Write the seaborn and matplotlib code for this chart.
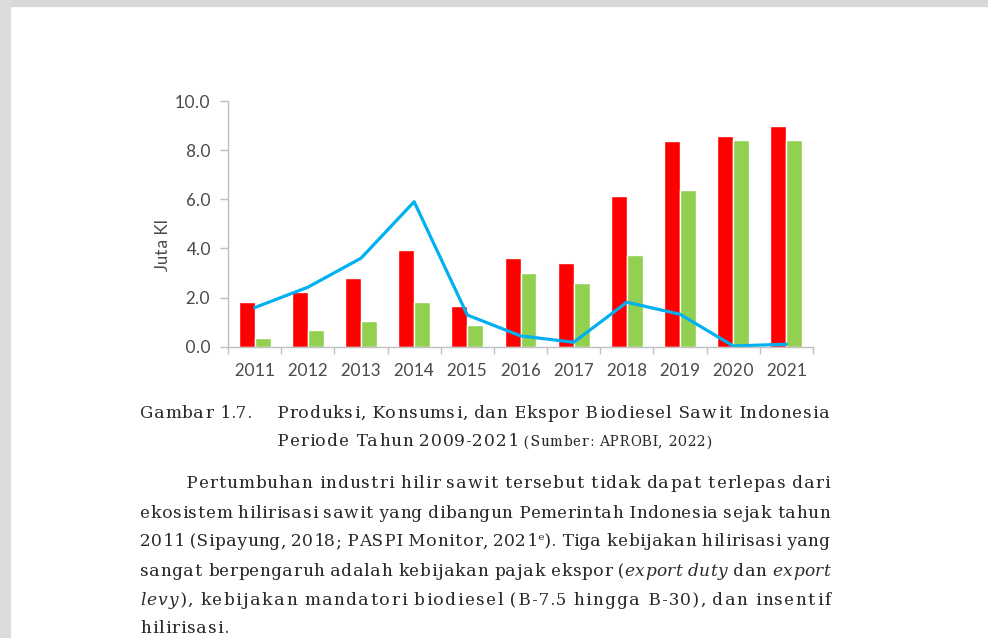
import numpy as np
import pandas as pd
import matplotlib
matplotlib.use('Agg')
import matplotlib.pyplot as plt
import seaborn as sns
from matplotlib.patches import Rectangle
from matplotlib import font_manager as fm

# data (juta kl)
years = ['2011', '2012', '2013', '2014', '2015', '2016', '2017', '2018', '2019', '2020', '2021']
produksi = [1.81, 2.21, 2.78, 3.94, 1.66, 3.62, 3.39, 6.15, 8.38, 8.59, 8.98]
konsumsi = [0.37, 0.68, 1.05, 1.83, 0.88, 2.99, 2.58, 3.74, 6.38, 8.41, 8.41]
ekspor = [1.59, 2.42, 3.60, 5.90, 1.29, 0.44, 0.18, 1.81, 1.32, 0.03, 0.10]
y_ticks = [0, 2, 4, 6, 8, 10]

caption_1 = 'Produksi, Konsumsi, dan Ekspor Biodiesel Sawit Indonesia'
caption_2 = 'Periode Tahun 2009-2021'
sumber = '(Sumber: APROBI, 2022)'
paragraf = [
    'Pertumbuhan industri hilir sawit tersebut tidak dapat terlepas dari',
    'ekosistem hilirisasi sawit yang dibangun Pemerintah Indonesia sejak tahun',
    '2011 (Sipayung, 2018; PASPI Monitor, 2021^e^). Tiga kebijakan hilirisasi yang',
    'sangat berpengaruh adalah kebijakan pajak ekspor (_export duty_ dan _export_',
    '_levy_), kebijakan mandatori biodiesel (B-7.5 hingga B-30), dan insentif',
    'hilirisasi.',
]

W, H = 988, 638
sns.set_theme(style='white')
plt.rcParams['font.family'] = ['Lato', 'DejaVu Sans']
plt.rcParams['text.hinting'] = 'force_autohint'
plt.rcParams['text.hinting_factor'] = 1

fig = plt.figure(figsize=(W / 100, H / 100), dpi=100)
fig.patch.set_facecolor('white')

# grey page edge of the screenshot
fig.patches.append(Rectangle((0, 1 - 6 / H), 1, 6 / H, transform=fig.transFigure,
                             color='#d8d8d8', zorder=0))
fig.patches.append(Rectangle((0, 0), 10 / W, 1, transform=fig.transFigure,
                             color='#dcdcdc', zorder=0))

# chart
ax = fig.add_axes([228 / W, 1 - 346.7 / H, 585 / W, 245.7 / H])
df = pd.DataFrame({'Tahun': years * 2,
                   'Nilai': produksi + konsumsi,
                   'Seri': ['Produksi'] * len(years) + ['Konsumsi'] * len(years)})
sns.barplot(data=df, x='Tahun', y='Nilai', hue='Seri',
            palette={'Produksi': '#FF0000', 'Konsumsi': '#92D050'},
            width=0.6, saturation=1, legend=False, ax=ax)
sns.lineplot(x=np.arange(len(years)), y=ekspor, color='#00B0F0', lw=2.3, ax=ax)

ax.set_xlim(-0.5, len(years) - 0.5)
ax.set_ylim(0, 10)
ax.set_yticks(y_ticks)
ax.set_yticklabels([f'{v:.1f}' for v in y_ticks])
ax.set_xticks(range(len(years)))
ax.set_xticklabels(years)
ax.set_xticks(np.arange(-0.5, len(years), 1), minor=True)
ax.set_xlabel('')
ax.set_ylabel('Juta Kl', fontsize=12, color='#4a4a4a')
ax.yaxis.set_label_coords(-0.097, 0.414)

grey = '#4a4a4a'
axis_c = '#BFBFBF'
ax.tick_params(axis='y', left=True, length=6, width=1, color=axis_c, pad=6.5,
               labelsize=12.5, labelcolor=grey)
ax.tick_params(axis='x', which='major', bottom=True, length=0, pad=12,
               labelsize=12.5, labelcolor=grey)
ax.tick_params(axis='x', which='minor', bottom=True, length=5, width=1, color=axis_c)
for s in ['top', 'right']:
    ax.spines[s].set_visible(False)
for s in ['left', 'bottom']:
    ax.spines[s].set_color(axis_c)
    ax.spines[s].set_linewidth(1)

# caption and paragraph text, justified with letter spacing like the source
renderer = fig.canvas.get_renderer()
serif_font = fm.FontProperties(family='DejaVu Serif')
serif_it = fm.FontProperties(family='DejaVu Serif', style='italic')
fs = 12.5
txt_c = '#2a2a2a'
tracking = 0.6  # the source face runs a little wider than DejaVu Serif


def parse(line):
    words = []
    state = 'normal'
    for w in line.split(' '):
        segs, buf = [], ''
        for ch in w:
            if ch in '_^':
                if buf:
                    segs.append((buf, state))
                    buf = ''
                new = 'italic' if ch == '_' else 'sup'
                state = 'normal' if state == new else new
            else:
                buf += ch
        if buf:
            segs.append((buf, state))
        words.append(segs)
    return words


def prop(style, size):
    fp = (serif_it if style == 'italic' else serif_font).copy()
    fp.set_size(size * 0.6 if style == 'sup' else size)
    return fp


def text_w(s, fp):
    return renderer.get_text_width_height_descent(s, fp, ismath=False)[0]


_adv = {}


def advance(ch, fp):
    key = (ch, fp.get_style(), fp.get_size())
    if key not in _adv:
        _adv[key] = text_w('H' + ch + 'H', fp) - text_w('HH', fp)
    return _adv[key]


def place_line(line, y, x0, x1=None, size=None):
    size = size or fs
    words = parse(line)
    glyphs, word_w = [], []
    for word in words:
        pen = 0.0
        chars = []
        for txt, style in word:
            fp = prop(style, size)
            for ch in txt:
                chars.append((ch, fp, pen, style))
                pen += advance(ch, fp)
        glyphs.append(chars)
        word_w.append(pen)
    sp = advance(' ', prop('normal', size))
    n_chars = sum(len(c) for c in glyphs) + len(words) - 1
    natural = sum(word_w) + sp * (len(words) - 1)
    e = (x1 - x0 - natural) / (n_chars - 1) if x1 is not None else tracking
    x = x0
    for chars, ww in zip(glyphs, word_w):
        for k, (ch, fp, pen, style) in enumerate(chars):
            dy = -6.5 if style == 'sup' else 0
            fig.text((x + pen + k * e) / W, 1 - (y + dy) / H, ch, fontproperties=fp,
                     color=txt_c, va='baseline', ha='left')
        x += ww + len(chars) * e + sp + e
    return x - sp - e


place_line('Gambar 1.7.', 418, 140)
place_line(caption_1, 418, 277, 830)
end = place_line(caption_2, 446.5, 277)
place_line(sumber, 446.5, end + 5, size=fs * 0.78)

body_y = [488, 517.5, 546.5, 576, 605, 633]
for i, (line, y) in enumerate(zip(paragraf, body_y)):
    x0 = 186 if i == 0 else 140
    x1 = 830 if i < len(paragraf) - 1 else None
    place_line(line, y, x0, x1)

fig.savefig('out.png', dpi=100, facecolor='white')
